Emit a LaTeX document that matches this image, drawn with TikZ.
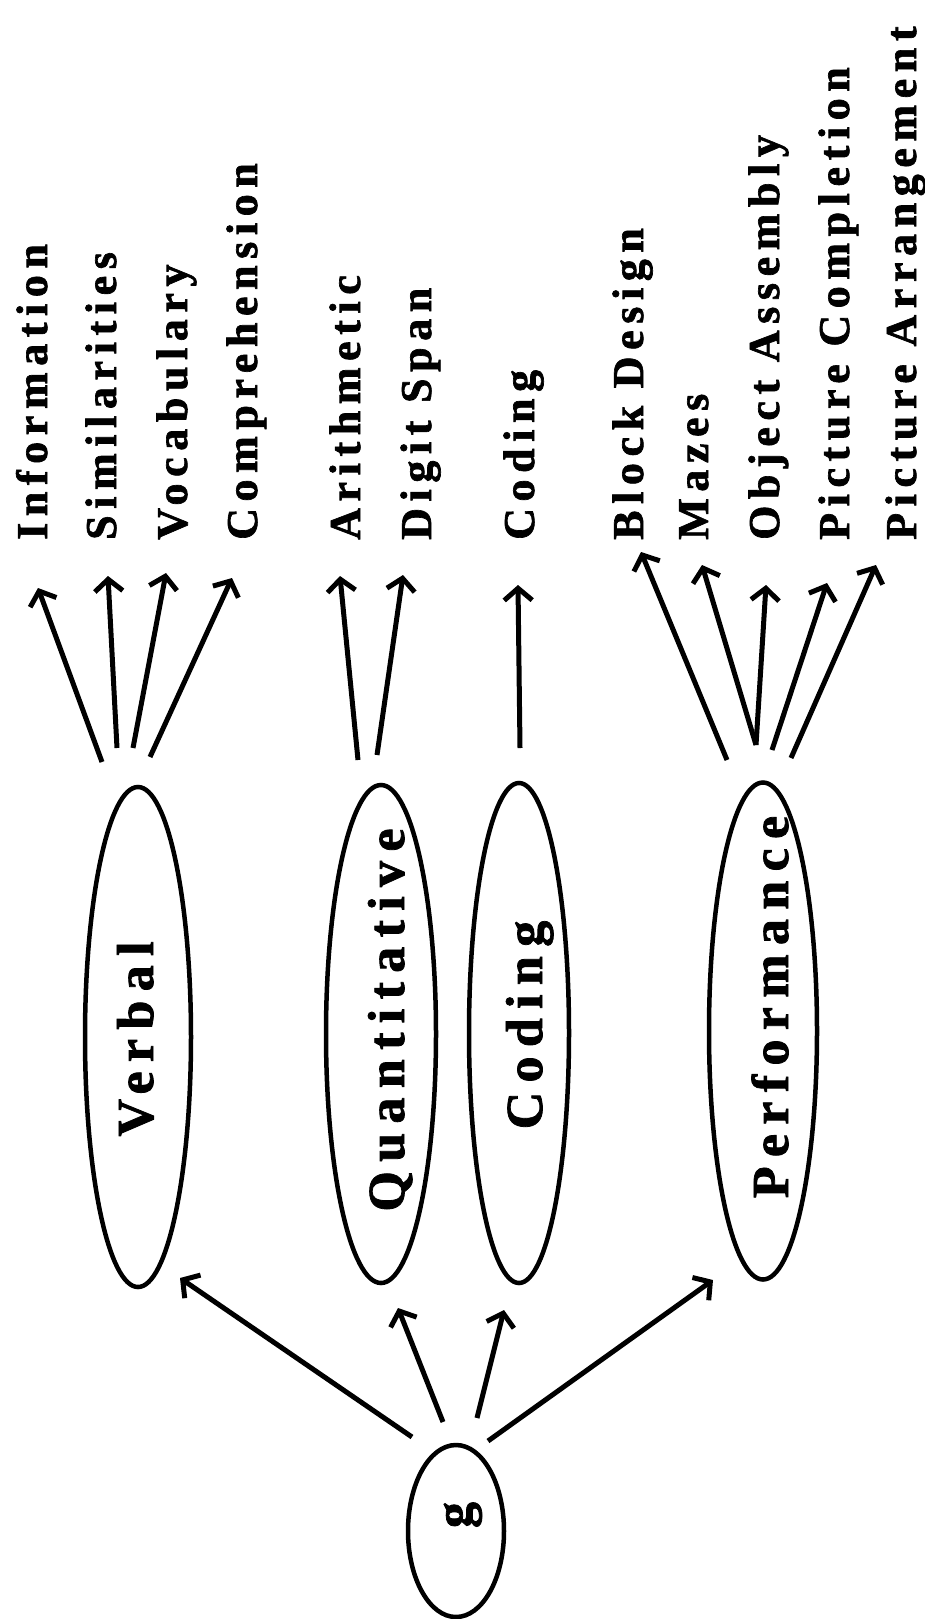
\documentclass[tikz,border=0pt]{standalone}
\usepackage{fontspec}
\setmainfont{Liberation Serif}[BoldFeatures={FakeBold=1.5}]
\newfontfamily\testfont[LetterSpace=15,BoldFeatures={FakeBold=1.5}]{Liberation Serif}
\newfontfamily\factfont[LetterSpace=18,BoldFeatures={FakeBold=1.5}]{Liberation Serif}
\usetikzlibrary{shapes.geometric,arrows.meta}
\begin{document}
\begin{tikzpicture}[x=1pt,y=-1pt,
  oval/.style={draw, ellipse, line width=4.5pt, inner sep=0pt},
  test/.style={rotate=90, anchor=base west, inner sep=0pt, font=\testfont\bfseries\fontsize{44}{50}\selectfont},
  fact/.style={rotate=90, anchor=base, inner sep=0pt, font=\factfont\bfseries\fontsize{52}{58}\selectfont},
  arr/.style={line width=5pt, -{Straight Barb[length=12pt,width=28pt]}}]
\useasboundingbox (0,0) rectangle (924,1619);

% ellipses
\node[oval, minimum width=106pt, minimum height=500pt] (verbal) at (138,1037) {};
\node[oval, minimum width=110pt, minimum height=498pt] (quant) at (381,1034) {};
\node[oval, minimum width=100pt, minimum height=500pt] (coding) at (519,1033) {};
\node[oval, minimum width=108pt, minimum height=497pt] (perf) at (763,1031) {};
\node[oval, minimum width=96pt, minimum height=172pt] (g) at (456,1531) {};

% ellipse texts
\node[fact] (verbalT) at (153,1039) {Verbal};
\node[fact] (quantT) at (404,1020) {Quantitative};
\node[fact] (codingT) at (542,1025) {Coding};
\node[fact] (perfT) at (788,1007) {Performance};
\node[rotate=90, inner sep=0pt, font=\bfseries\fontsize{52}{58}\selectfont] (gT) at (463,1515) {g};

% test labels
\node[test] (info) at (47,540) {Information};
\node[test] (sim) at (116,540) {Similarities};
\node[test] (voc) at (187,540) {Vocabulary};
\node[test] (comp) at (257,540) {Comprehension};
\node[test] (arith) at (360,540) {Arithmetic};
\node[test] (digit) at (431,540) {Digit Span};
\node[test] (codtest) at (534,540) {Coding};
\node[test] (block) at (643,540) {Block Design};
\node[test] (mazes) at (708,540) {Mazes};
\node[test] (obj) at (779,540) {Object Assembly};
\node[test] (pcomp) at (849,540) {Picture Completion};
\node[test] (parr) at (916,540) {Picture Arrangement};

% arrow end points
\coordinate (v1) at (102,762); \coordinate (h1) at (38,588);
\coordinate (v2) at (117,748); \coordinate (h2) at (108,576);
\coordinate (v3) at (133,748); \coordinate (h3) at (166,573);
\coordinate (v4) at (150,757); \coordinate (h4) at (232,578);
\coordinate (q1) at (358,760); \coordinate (h5) at (340,576);
\coordinate (q2) at (377,755); \coordinate (h6) at (403,575);
\coordinate (c1) at (520,748); \coordinate (h7) at (518,585);
\coordinate (p1) at (727,760); \coordinate (h8) at (641,552);
\coordinate (p2) at (756,745); \coordinate (h9) at (702,565);
\coordinate (p3) at (756,745); \coordinate (h10) at (766,585);
\coordinate (p4) at (772,750); \coordinate (h11) at (827,583);
\coordinate (p5) at (791,758); \coordinate (h12) at (876,565);
\coordinate (g1) at (412,1437); \coordinate (gv) at (180,1278);
\coordinate (g2) at (443,1422); \coordinate (gq) at (398,1308);
\coordinate (g3) at (477,1418); \coordinate (gc) at (504,1310);
\coordinate (g4) at (488,1441); \coordinate (gp) at (713,1280);

\draw[arr] (v1) -- (h1);
\draw[arr] (v2) -- (h2);
\draw[arr] (v3) -- (h3);
\draw[arr] (v4) -- (h4);
\draw[arr] (q1) -- (h5);
\draw[arr] (q2) -- (h6);
\draw[arr] (c1) -- (h7);
\draw[arr] (p1) -- (h8);
\draw[arr] (p2) -- (h9);
\draw[arr] (p3) -- (h10);
\draw[arr] (p4) -- (h11);
\draw[arr] (p5) -- (h12);
\draw[arr] (g1) -- (gv);
\draw[arr] (g2) -- (gq);
\draw[arr] (g3) -- (gc);
\draw[arr] (g4) -- (gp);
\end{tikzpicture}
\end{document}
